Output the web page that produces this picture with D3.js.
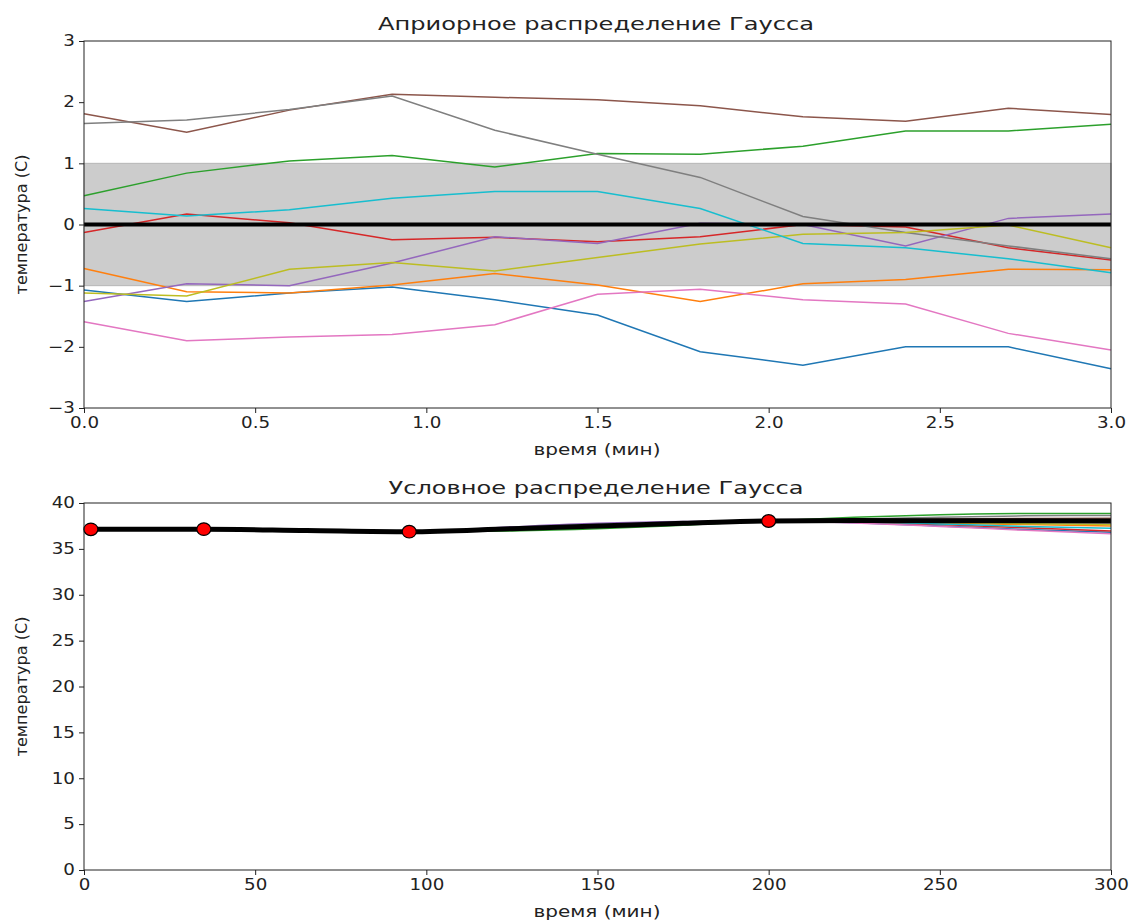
<!DOCTYPE html>
<html>
<head>
<meta charset="utf-8">
<script src="https://cdn.jsdelivr.net/npm/d3@7"></script>
<style>
  body { margin: 0; background: #fff; }
  text { font-family: "DejaVu Sans", sans-serif; fill: #222; }
</style>
</head>
<body>
<div id="my_dataviz"></div>
<script>
// ---- top panel data (prior samples) ----
var priorTimes = [0.0, 0.3, 0.6, 0.9, 1.2, 1.5, 1.8, 2.1, 2.4, 2.7, 3.0]
var priorBlue   = [-1.07, -1.26, -1.12, -1.02, -1.23, -1.48, -2.08, -2.30, -2.00, -2.00, -2.36]
var priorOrange = [-0.72, -1.10, -1.12, -0.99, -0.80, -0.99, -1.26, -0.97, -0.90, -0.73, -0.74]
var priorGreen  = [0.47, 0.84, 1.04, 1.13, 0.94, 1.16, 1.15, 1.28, 1.53, 1.53, 1.64]
var priorRed    = [-0.13, 0.17, 0.03, -0.25, -0.21, -0.28, -0.20, 0.00, -0.04, -0.38, -0.58]
var priorPurple = [-1.26, -0.97, -1.00, -0.63, -0.20, -0.31, 0.02, 0.00, -0.35, 0.10, 0.17]
var priorBrown  = [1.81, 1.51, 1.87, 2.13, 2.08, 2.04, 1.94, 1.76, 1.69, 1.90, 1.80]
var priorPink   = [-1.59, -1.90, -1.84, -1.80, -1.64, -1.14, -1.06, -1.23, -1.30, -1.78, -2.05]
var priorGray   = [1.65, 1.71, 1.88, 2.10, 1.54, 1.15, 0.77, 0.13, -0.13, -0.35, -0.56]
var priorOlive  = [-1.12, -1.17, -0.73, -0.62, -0.76, -0.54, -0.32, -0.16, -0.13, -0.01, -0.38]
var priorCyan   = [0.26, 0.14, 0.24, 0.43, 0.54, 0.54, 0.26, -0.31, -0.38, -0.56, -0.79]
var priorMean   = [0, 0, 0, 0, 0, 0, 0, 0, 0, 0, 0]
var priorBand   = [-1, 1]

// ---- bottom panel data (posterior samples) ----
var postTimes  = [0, 35, 65, 95, 125, 150, 175, 200, 225, 250, 275, 300]
var postBlue   = [37.13, 37.13, 36.90, 36.87, 37.15, 37.45, 37.78, 38.04, 37.85, 37.50, 37.10, 36.80]
var postOrange = [37.13, 37.13, 37.03, 36.87, 37.25, 37.52, 37.80, 38.04, 37.98, 37.82, 37.65, 37.50]
var postGreen  = [37.13, 37.13, 37.05, 36.87, 36.95, 37.18, 37.58, 38.04, 38.45, 38.72, 38.85, 38.85]
var postRed    = [37.13, 37.13, 36.97, 36.87, 37.22, 37.53, 37.81, 38.04, 37.92, 37.65, 37.30, 36.95]
var postPurple = [37.13, 37.13, 37.02, 36.87, 37.40, 37.78, 37.98, 38.04, 38.05, 37.98, 37.92, 37.85]
var postBrown  = [37.13, 37.13, 37.00, 36.87, 37.25, 37.56, 37.83, 38.04, 38.15, 38.25, 38.32, 38.35]
var postPink   = [37.13, 37.13, 36.95, 36.87, 37.20, 37.46, 37.76, 38.04, 37.82, 37.45, 37.02, 36.65]
var postGray   = [37.13, 37.13, 37.02, 36.87, 37.25, 37.53, 37.81, 38.04, 38.25, 38.45, 38.60, 38.65]
var postOlive  = [37.13, 37.13, 37.00, 36.87, 37.28, 37.58, 37.83, 38.04, 37.98, 37.88, 37.75, 37.65]
var postCyan   = [37.13, 37.13, 36.95, 36.87, 37.30, 37.63, 37.88, 38.04, 37.95, 37.72, 37.45, 37.25]
var postMean   = [37.13, 37.13, 37.00, 36.87, 37.20, 37.48, 37.78, 38.04, 38.08, 38.07, 38.06, 38.05]
var obsTimes = [2, 35, 95, 200]
var obsTemps = [37.13, 37.15, 36.87, 38.04]

var colors = ["#1f77b4", "#ff7f0e", "#2ca02c", "#d62728", "#9467bd",
              "#8c564b", "#e377c2", "#7f7f7f", "#bcbd22", "#17becf"]
var priorSeries = [priorBlue, priorOrange, priorGreen, priorRed, priorPurple,
                   priorBrown, priorPink, priorGray, priorOlive, priorCyan]
var postSeries = [postBlue, postOrange, postGreen, postRed, postPurple,
                  postBrown, postPink, postGray, postOlive, postCyan]

var svg = d3.select("#my_dataviz")
  .append("svg")
    .attr("width", 1131)
    .attr("height", 922)

var left = 84, right = 1111
var stretch = 1.22

function drawAxes(g, x, y, xt, yt, xfmt, h) {
  var xa = g.append("g")
    .attr("transform", "translate(0," + h + ")")
    .call(d3.axisBottom(x).tickValues(xt).tickFormat(xfmt).tickSize(5).tickPadding(4))
  var ya = g.append("g")
    .call(d3.axisLeft(y).tickValues(yt).tickFormat(d3.format("d")).tickSize(5).tickPadding(4))
  xa.selectAll(".tick text").attr("font-size", 15).attr("transform", "scale(" + stretch + ",1)")
  ya.selectAll(".tick text").attr("font-size", 15)
    .attr("transform", "translate(-9,0) scale(" + stretch + ",1) translate(9,0)")
  g.selectAll(".domain").remove()
  g.selectAll(".tick line").attr("stroke", "#222")
  // frame
  g.append("rect")
    .attr("x", 0).attr("y", 0)
    .attr("width", right - left).attr("height", h)
    .attr("fill", "none").attr("stroke", "#222").attr("stroke-width", 1)
}

// ================= top panel =================
var top1 = 41, h1 = 408 - 41
var g1 = svg.append("g").attr("transform", "translate(" + left + "," + top1 + ")")
var x1 = d3.scaleLinear().domain([0, 3]).range([0, right - left])
var y1 = d3.scaleLinear().domain([-3, 3]).range([h1, 0])

g1.append("rect")
  .attr("x", x1(0)).attr("width", x1(3) - x1(0))
  .attr("y", y1(priorBand[1])).attr("height", y1(priorBand[0]) - y1(priorBand[1]))
  .attr("fill", "#cccccc").attr("stroke", "#b5b5b5").attr("stroke-width", 1)

var line1 = d3.line()
  .x(function (d, i) { return x1(priorTimes[i]) })
  .y(function (d) { return y1(d) })

g1.selectAll(".sample")
  .data(priorSeries)
  .enter()
  .append("path")
    .attr("d", line1)
    .attr("fill", "none")
    .attr("stroke", function (d, i) { return colors[i] })
    .attr("stroke-width", 1.5)

g1.append("path")
  .attr("d", line1(priorMean))
  .attr("fill", "none").attr("stroke", "#000").attr("stroke-width", 4)

drawAxes(g1, x1, y1, [0, 0.5, 1, 1.5, 2, 2.5, 3], [-3, -2, -1, 0, 1, 2, 3], d3.format(".1f"), h1)

svg.append("text")
  .attr("x", 596).attr("y", 30).attr("text-anchor", "middle")
  .attr("font-size", 17).attr("textLength", 436).attr("lengthAdjust", "spacingAndGlyphs")
  .text("Априорное распределение Гаусса")
svg.append("text")
  .attr("x", 597).attr("y", 455).attr("text-anchor", "middle")
  .attr("font-size", 15).attr("textLength", 127).attr("lengthAdjust", "spacingAndGlyphs")
  .text("время (мин)")
svg.append("text")
  .attr("transform", "translate(27," + (top1 + h1 / 2) + ") rotate(-90)")
  .attr("text-anchor", "middle")
  .attr("font-size", 15).attr("textLength", 140).attr("lengthAdjust", "spacingAndGlyphs")
  .text("температура (С)")

// ================= bottom panel =================
var top2 = 503, h2 = 870 - 503
var g2 = svg.append("g").attr("transform", "translate(" + left + "," + top2 + ")")
var x2 = d3.scaleLinear().domain([0, 300]).range([0, right - left])
var y2 = d3.scaleLinear().domain([0, 40]).range([h2, 0])

var line2 = d3.line()
  .x(function (d, i) { return x2(postTimes[i]) })
  .y(function (d) { return y2(d) })
  .curve(d3.curveMonotoneX)

g2.selectAll(".sample")
  .data(postSeries)
  .enter()
  .append("path")
    .attr("d", line2)
    .attr("fill", "none")
    .attr("stroke", function (d, i) { return colors[i] })
    .attr("stroke-width", 1.5)

g2.append("path")
  .attr("d", line2(postMean))
  .attr("fill", "none").attr("stroke", "#000").attr("stroke-width", 5)

g2.selectAll(".obs")
  .data(obsTimes)
  .enter()
  .append("ellipse")
    .attr("cx", function (d) { return x2(d) })
    .attr("cy", function (d, i) { return y2(obsTemps[i]) })
    .attr("rx", 7).attr("ry", 6.3)
    .attr("fill", "red").attr("stroke", "#000").attr("stroke-width", 1.2)

drawAxes(g2, x2, y2, [0, 50, 100, 150, 200, 250, 300], [0, 5, 10, 15, 20, 25, 30, 35, 40], d3.format("d"), h2)

svg.append("text")
  .attr("x", 596).attr("y", 494).attr("text-anchor", "middle")
  .attr("font-size", 17).attr("textLength", 415).attr("lengthAdjust", "spacingAndGlyphs")
  .text("Условное распределение Гаусса")
svg.append("text")
  .attr("x", 597).attr("y", 917).attr("text-anchor", "middle")
  .attr("font-size", 15).attr("textLength", 127).attr("lengthAdjust", "spacingAndGlyphs")
  .text("время (мин)")
svg.append("text")
  .attr("transform", "translate(27," + (top2 + h2 / 2) + ") rotate(-90)")
  .attr("text-anchor", "middle")
  .attr("font-size", 15).attr("textLength", 140).attr("lengthAdjust", "spacingAndGlyphs")
  .text("температура (С)")
</script>
</body>
</html>
